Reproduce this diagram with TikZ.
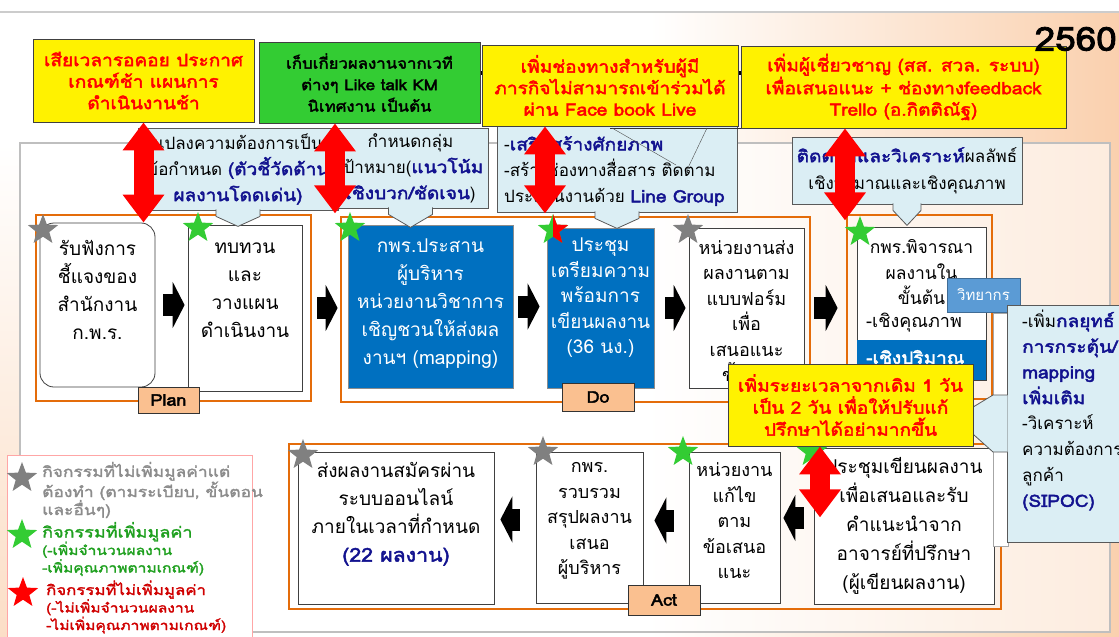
\documentclass[tikz,border=0pt]{standalone}
\usepackage{fontspec}
\setmainfont[Script=Thai, BoldFont={Loma}, BoldFeatures={FakeBold=2.5, FakeStretch=1.12}]{Loma}
\newfontfamily\legfont[Script=Thai, FakeBold=2, FakeStretch=1.2]{Loma}
\usetikzlibrary{shapes.geometric,arrows.meta,calc}

\definecolor{peach}{HTML}{FAD0AE}
\definecolor{lbfill}{HTML}{DBEEF4}
\definecolor{boxblue}{HTML}{0070C0}
\definecolor{midblue}{HTML}{5B9BD5}
\definecolor{frameorange}{HTML}{E46C0A}
\definecolor{tagpeach}{HTML}{FAC090}
\definecolor{navytxt}{HTML}{12128F}
\definecolor{grnfill}{HTML}{33CC33}
\definecolor{stargray}{HTML}{808080}
\definecolor{stargreen}{HTML}{33CC33}
\definecolor{legendgreen}{HTML}{1FA01F}
\definecolor{legendred}{HTML}{D00000}
\definecolor{legendgray}{HTML}{8C8C8C}

\tikzset{
  ylwbox/.style={draw=black!75, line width=0.8pt, fill=yellow, text=red, align=center, inner sep=0pt, font=\bfseries\fontsize{17}{21.5}\selectfont},
  grnbox/.style={ylwbox, fill=grnfill, text=black, font=\bfseries\fontsize{15}{21.5}\selectfont},
  lbbox/.style={draw=black!65, line width=0.8pt, fill=lbfill, align=center, inner sep=0pt, font=\fontsize{17}{26}\selectfont},
  lbptr/.style={draw=black!65, line width=0.8pt, fill=lbfill},
  lbtxt/.style={align=left, inner sep=0pt, font=\fontsize{17}{26}\selectfont},
  procbox/.style={draw=black!75, line width=0.8pt, fill=white, inner sep=0pt},
  bluebox/.style={draw=black!45, line width=0.8pt, fill=boxblue, inner sep=0pt},
  boxtxt/.style={align=center, inner sep=0pt, font=\fontsize{19}{28}\selectfont},
  boxtxtsm/.style={align=center, inner sep=0pt, font=\fontsize{18}{25.5}\selectfont},
  frame/.style={draw=frameorange, line width=2.5pt},
  tag/.style={draw=black!80, line width=0.8pt, fill=tagpeach, inner sep=0pt, font=\bfseries\fontsize{16}{18}\selectfont},
  staricon/.style={star, star points=5, star point ratio=2.4, minimum size=32pt, inner sep=0pt},
  graystar/.style={staricon, fill=stargray},
  greenstar/.style={staricon, fill=stargreen},
  redstar/.style={staricon, fill=red},
  legtxt/.style={align=left, inner sep=0pt, font=\legfont\fontsize{13}{17.5}\selectfont},
  redarr/.style={draw=red, line width=20pt, {Triangle[width=40pt,length=28pt]}-{Triangle[width=40pt,length=28pt]}},
  blkarr/.style={draw=black, line width=22pt, -{Triangle[width=46pt,length=12pt]}},
}

\begin{document}
\begin{tikzpicture}[x=1pt,y=-1pt]
  \clip (0,0) rectangle (1119,637);
  % slide background
  \fill[white] (0,0) rectangle (1119,637);
  \shade[left color=white, right color=peach] (650,13) rectangle (1119,637);
  \shade[top color=white, bottom color=peach!70] (0,143) rectangle (20,637);
  \draw[black!20, line width=2pt] (0,12) -- (1119,12);
  \draw[black!25, line width=1.2pt, fill=white, fill opacity=0.6] (20,143) rectangle (1110,632);
  \draw[line width=4pt] (472,73) -- (748,73);

  % PDCA frames
  \draw[frame] (36,215) rectangle (311,401);
  \draw[frame] (341,217) rectangle (810,402);
  \draw[frame] (847,215) rectangle (992,399);
  \draw[frame] (289,444) rectangle (1001,609);

  % top row
  \node[procbox, rounded corners=14pt, minimum width=115pt, minimum height=164pt] (listen) at (97.5,305) {};
  \node[boxtxt] (listentxt) at (97.5,290) {รับฟังการ\\ชี้แจงของ\\สำนักงาน\\ก.พ.ร.};
  \node[procbox, minimum width=114pt, minimum height=166pt] (review) at (245,308) {};
  \node[boxtxt] (reviewtxt) at (245,290) {ทบทวน\\และ\\วางแผน\\ดำเนินงาน};
  \node[bluebox, minimum width=165pt, minimum height=163pt] (merge) at (430.5,306.5) {};
  \node[boxtxt, text=white] (mergetxt) at (430.5,304) {กพร.ประสาน\\ผู้บริหาร\\หน่วยงานวิชาการ\\เชิญชวนให้ส่งผล\\งานฯ (mapping)};
  \node[bluebox, minimum width=107pt, minimum height=160pt] (prep) at (600.5,308) {};
  \node[boxtxtsm, text=white, font=\fontsize{19}{25.5}\selectfont] (preptxt) at (600.5,298) {ประชุม\\เตรียมความ\\พร้อมการ\\เขียนผลงาน\\(36 นง.)};
  \node[procbox, minimum width=115pt, minimum height=160pt] (submit) at (746.5,308) {};
  \begin{scope}
    \clip (689,228) rectangle (727,388) (727,228) rectangle (804,363);
    \node[boxtxtsm] (submittxt) at (746.5,311) {หน่วยงานส่ง\\ผลงานตาม\\แบบฟอร์ม\\เพื่อ\\เสนอแนะ\\ขั้นต้น};
  \end{scope}
  \node[procbox, minimum width=129pt, minimum height=153pt] (consider) at (921.5,303.5) {};
  \fill[boxblue] (857,340) rectangle (986,380);
  \node[boxtxtsm, font=\fontsize{17.5}{25.5}\selectfont] (considertxt) at (921.5,272.5) {กพร.พิจารณา\\ผลงานใน\\ขั้นต้น};
  \node[boxtxtsm, anchor=west] (qual) at (866,323) {-เชิงคุณภาพ};
  \node[boxtxtsm, anchor=west, text=white, font=\bfseries\fontsize{17}{25.5}\selectfont] (quan) at (866,357) {-เชิงปริมาณ};

  % bottom row
  \node[procbox, minimum width=180pt, minimum height=156pt] (meet) at (904,526) {};
  \node[boxtxt, font=\fontsize{19}{29}\selectfont] (meettxt) at (904,526) {ประชุมเขียนผลงาน\\เพื่อเสนอและรับ\\คำแนะนำจาก\\อาจารย์ที่ปรึกษา\\(ผู้เขียนผลงาน)};
  \node[procbox, minimum width=91pt, minimum height=151pt] (fix) at (734.5,527.5) {};
  \node[boxtxtsm] (fixtxt) at (734.5,521) {หน่วยงาน\\แก้ไข\\ตาม\\ข้อเสนอ\\แนะ};
  \node[procbox, minimum width=107pt, minimum height=151pt] (collect) at (589.5,527.5) {};
  \node[boxtxtsm] (collecttxt) at (589.5,521) {กพร.\\รวบรวม\\สรุปผลงาน\\เสนอ\\ผู้บริหาร};
  \node[procbox, minimum width=196pt, minimum height=152pt] (send) at (396,528) {};
  \node[boxtxt] (sendtxt) at (396,514) {ส่งผลงานสมัครผ่าน\\ระบบออนไลน์\\ภายในเวลาที่กำหนด\\{\color{navytxt}\bfseries (22 ผลงาน)}};

  % flow arrows
  \draw[blkarr] ([xshift=8pt]listen.east) -- ([xshift=-3pt]listen.east -| review.west);
  \draw[blkarr] ([xshift=15pt]review.east) -- ([xshift=-10pt]review.east -| merge.west);
  \draw[blkarr] ([xshift=5pt]merge.east) -- ([xshift=-7pt]merge.east -| prep.west);
  \draw[blkarr] ([xshift=11pt]prep.east) -- ([xshift=-3pt]prep.east -| submit.west);
  \draw[blkarr] ([xshift=10pt]submit.east) -- ([xshift=-19pt]submit.east -| consider.west);
  \draw[blkarr] ([shift={(-10pt,8pt)}]meet.west) -- ([shift={(3pt,8pt)}]meet.west -| fix.east);
  \draw[blkarr] ([shift={(-15pt,7pt)}]fix.west) -- ([shift={(11pt,7pt)}]fix.west -| collect.east);
  \draw[blkarr] ([shift={(-16pt,8pt)}]collect.west) -- ([shift={(6pt,8pt)}]collect.west -| send.east);

  % phase tags
  \node[tag, minimum width=61pt, minimum height=26pt] (plantag) at (168.5,400) {Plan};
  \node[tag, minimum width=72pt, minimum height=28pt] (dotag) at (598,397) {Do};
  \node[tag, minimum width=72pt, minimum height=30pt] (acttag) at (664,600) {Act};

  % stars
  \node[graystar] (st1) at (43,230) {};
  \node[greenstar] (st2) at (198,228) {};
  \node[greenstar] (st3) at (350,228) {};
  \node[greenstar] (st4) at (553,230) {};
  \begin{scope}
    \clip (553,200) rectangle (590,260);
    \node[redstar] (st4b) at (553,230) {};
  \end{scope}
  \node[graystar] (st5) at (688,230) {};
  \node[greenstar] (st6) at (860,232) {};
  \node[greenstar] (st7) at (812,452) {};
  \node[greenstar] (st8) at (683,452) {};
  \node[graystar] (st9) at (543,452) {};
  \node[graystar] (st10) at (303,455) {};

  % light blue notes
  \node[lbbox, minimum width=200pt, minimum height=82pt] (lb1) at (238,169) {แปลงความต้องการเป็น\\ข้อกำหนด {\color{navytxt}\bfseries (ตัวชี้วัดด้าน}\\{\color{navytxt}\bfseries ผลงานโดดเด่น)}};
  \filldraw[lbptr] ($(lb1.south)+(-22,-1)$) -- ++(0,7) -- ($(lb1.south)+(0,16)$) -- ($(lb1.south)+(22,6)$) -- ++(0,-7);
  \node[lbbox, minimum width=155pt, minimum height=80pt] (lb2) at (410.5,168) {กำหนดกลุ่ม\\เป้าหมาย({\color{navytxt}\bfseries แนวโน้ม}\\{\color{navytxt}\bfseries เชิงบวก/ชัดเจน})};
  \filldraw[lbptr] ($(lb2.south)+(-22,-1)$) -- ++(0,7) -- ($(lb2.south)+(0,19)$) -- ($(lb2.south)+(22,6)$) -- ++(0,-7);
  \node[lbbox, minimum width=240pt, minimum height=97pt] (lb3) at (617,163.5) {};
  \filldraw[lbptr] ($(lb3.south)+(-22,-1)$) -- ++(0,7) -- ($(lb3.south)+(0,16)$) -- ($(lb3.south)+(22,6)$) -- ++(0,-7);
  \node[lbtxt, anchor=west] (lb3txt) at (504,171) {-{\color{navytxt}\bfseries เสริมสร้างศักยภาพ}\\-สร้างช่องทางสื่อสาร ติดตาม\\ประสานงานด้วย {\color{navytxt}\bfseries Line Group}};
  \draw[black!80] (610,128) -- (792,128);
  \draw[black!70] (612,128) -- (676,165);
  \draw[black!70] (707,128) -- (686,172);
  \node[lbbox, font=\fontsize{17}{27}\selectfont, minimum width=230pt, minimum height=67pt] (lb4) at (907,170.5) {{\color{navytxt}\bfseries ติดตามและวิเคราะห์}ผลลัพธ์\\เชิงปริมาณและเชิงคุณภาพ};
  \filldraw[lbptr] ($(lb4.south)+(-14,-1)$) -- ++(0,7) -- ($(lb4.south)+(0,21)$) -- ($(lb4.south)+(14,6)$) -- ++(0,-7);

  % top notes
  \node[ylwbox, minimum width=221pt, minimum height=83pt] (ylw1) at (143.5,80.5) {เสียเวลารอคอย ประกาศ\\เกณฑ์ช้า แผนการ\\ดำเนินงานช้า};
  \node[grnbox, minimum width=221pt, minimum height=81pt] (grn) at (369.5,82.5) {เก็บเกี่ยวผลงานจากเวที\\ต่างๆ Like talk KM\\นิเทศงาน เป็นต้น};
  \node[ylwbox, minimum width=256pt, minimum height=81pt] (ylw3) at (610,85.5) {เพิ่มช่องทางสำหรับผู้มี\\ภารกิจไม่สามารถเข้าร่วมได้\\ผ่าน Face book Live};
  \node[ylwbox, minimum width=325pt, minimum height=82pt] (ylw4) at (903.5,87) {เพิ่มผู้เชี่ยวชาญ (สส. สวล. ระบบ)\\เพื่อเสนอแนะ + ช่องทางfeedback\\Trello (อ.กิตติณัฐ)};
  \node[font=\bfseries\fontsize{33}{33}\selectfont, anchor=east, inner sep=0pt] (year) at (1117,39) {2560};

  % right side note
  \node[draw=midblue!70!black, fill=midblue, text=white, font=\fontsize{15}{16}\selectfont, minimum width=73pt, minimum height=34pt, inner sep=0pt] (speaker) at (983.5,295) {วิทยากร};
  \draw[black!35, fill=white] (993,313) rectangle (1008,408);
  \draw[black!35, fill=white] (993,437) rectangle (1008,546);
  \node[lbbox, minimum width=140pt, minimum height=237pt] (lb5) at (1077,423.5) {};
  \filldraw[lbptr] ($(lb5.west)+(1,-28.5)$) -- (993,395) -- (955,418) -- (993,452) -- ($(lb5.west)+(1,28.5)$);
  \node[lbtxt, font=\fontsize{17}{25.7}\selectfont, anchor=west] (lb5txt) at (1022,410) {-เพิ่ม{\color{navytxt}\bfseries กลยุทธ์}\\{\color{navytxt}\bfseries การกระตุ้น/}\\{\color{navytxt}\bfseries mapping}\\{\color{navytxt}\bfseries เพิ่มเติม}\\-วิเคราะห์\\ความต้องการ\\ลูกค้า\\{\color{navytxt}\bfseries (SIPOC)}};
  \node[ylwbox, minimum width=245pt, minimum height=82pt, font=\bfseries\fontsize{17}{22}\selectfont] (ylw5) at (850.5,405) {เพิ่มระยะเวลาจากเดิม 1 วัน\\เป็น 2 วัน เพื่อให้ปรับแก้\\ปรึกษาได้อย่ามากขึ้น};

  % legend
  \node[draw=red!35, fill=white, minimum width=245pt, minimum height=200pt, anchor=north west, inner sep=0pt] (legend) at (7,455) {};
  \node[graystar] (lg1) at (22,478) {};
  \node[greenstar] (lg2) at (22,535) {};
  \node[redstar] (lg3) at (23,593) {};
  \node[legtxt, text=legendgray, font=\legfont\fontsize{14.5}{18}\selectfont, anchor=west] (leg1) at (42,490) {กิจกรรมที่ไม่เพิ่มมูลค่าแต่\\ต้องทำ (ตามระเบียบ, ขั้นตอน\\และอื่นๆ)};
  \node[legtxt, text=legendgreen, anchor=west] (leg2) at (42,549) {{\fontsize{15}{17.5}\selectfont กิจกรรมที่เพิ่มมูลค่า}\\(-เพิ่มจำนวนผลงาน\\-เพิ่มคุณภาพตามเกณฑ์)};
  \node[legtxt, text=legendred, anchor=west] (leg3) at (46,607) {{\fontsize{14}{17.5}\selectfont กิจกรรมที่ไม่เพิ่มมูลค่า}\\(-ไม่เพิ่มจำนวนผลงาน\\-ไม่เพิ่มคุณภาพตามเกณฑ์)};

  % improvement links
  \draw[redarr] (ylw1.south) -- (ylw1.south |- listen.north);
  \draw[redarr] ($(grn.south)+(-34.5,0)$) -- ++(0,90);
  \draw[redarr] ($(ylw3.south)+(-65,0)$) -- ++(0,87);
  \draw[redarr] ($(ylw4.south)+(-58.5,0)$) -- ++(0,92);
  \draw[redarr] ($(ylw5.south)+(-30.5,0)$) -- ++(0,71);
\end{tikzpicture}
\end{document}
